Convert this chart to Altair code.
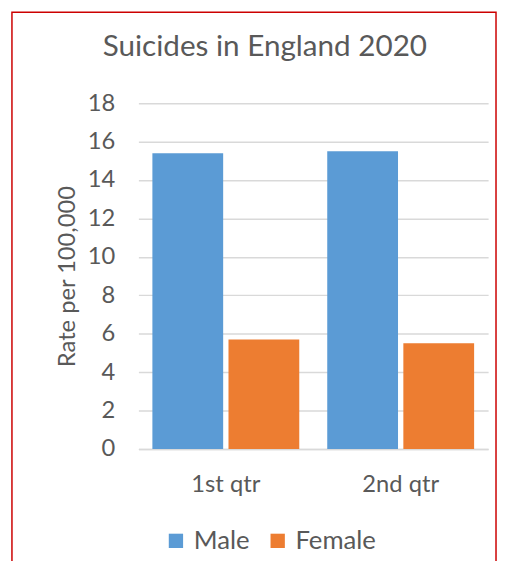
import altair as alt
import pandas as pd

quarters = ["1st qtr", "2nd qtr"]
sexes = ["Male", "Female"]
male_rates = [15.4, 15.5]
female_rates = [5.7, 5.5]
y_ticks = [0, 2, 4, 6, 8, 10, 12, 14, 16, 18]
colors = ["#5B9BD5", "#ED7D31"]

rows = []
for i, q in enumerate(quarters):
    rows.append({"Quarter": q, "Sex": "Male", "Rate": male_rates[i]})
    rows.append({"Quarter": q, "Sex": "Female", "Rate": female_rates[i]})
df = pd.DataFrame(rows)

FONT = "Lato"
GREY = "#595959"

bars = alt.Chart(df).mark_bar().encode(
    x=alt.X("Quarter:N", sort=quarters,
            scale=alt.Scale(paddingInner=0.16, paddingOuter=0.08),
            axis=alt.Axis(title=None, labelAngle=0, ticks=False, domain=True,
                          domainColor="#d9d9d9", domainWidth=1.5,
                          labelFont=FONT, labelFontSize=24, labelColor=GREY,
                          labelPadding=24)),
    xOffset=alt.XOffset("Sex:N", sort=sexes,
                        scale=alt.Scale(paddingInner=0.07, paddingOuter=0)),
    y=alt.Y("Rate:Q", scale=alt.Scale(domain=[0, 18], nice=False),
            axis=alt.Axis(values=y_ticks, ticks=False, domain=False,
                          grid=True, gridColor="#d9d9d9", gridWidth=1.5,
                          labelFont=FONT, labelFontSize=24, labelColor=GREY,
                          labelPadding=24,
                          title="Rate per 100,000", titleFont=FONT,
                          titleFontSize=24, titleFontWeight="normal",
                          titleColor=GREY, titlePadding=8)),
    color=alt.Color("Sex:N", sort=sexes,
                    scale=alt.Scale(domain=sexes, range=colors),
                    legend=alt.Legend(title=None, orient="none", direction="horizontal",
                                      legendX=25, legendY=430,
                                      symbolType="square", symbolSize=210,
                                      symbolStrokeWidth=0, symbolOpacity=1,
                                      labelFont=FONT, labelFontSize=26,
                                      labelColor=GREY, columnPadding=15,
                                      labelOffset=5)),
)

frame = alt.Chart(alt.Data(values=[{}])).mark_rect(
    fill=None, stroke="#cc0000", strokeWidth=1.5
).encode(
    x=alt.value(-128), x2=alt.value(362),
    y=alt.value(-92), y2=alt.value(600),
)

chart = alt.layer(frame, bars).properties(
    width=354, height=350,
    title=alt.TitleParams("Suicides in England 2020", font=FONT, fontSize=30,
                          fontWeight="normal", color=GREY, anchor="middle",
                          dx=-49, offset=-51),
    autosize=alt.AutoSizeParams(type="none"),
    padding={"left": 132, "top": 93, "right": 9, "bottom": 110},
).configure_view(stroke=None)

chart.save("out.html", embed_options={"renderer": "svg", "actions": False})
